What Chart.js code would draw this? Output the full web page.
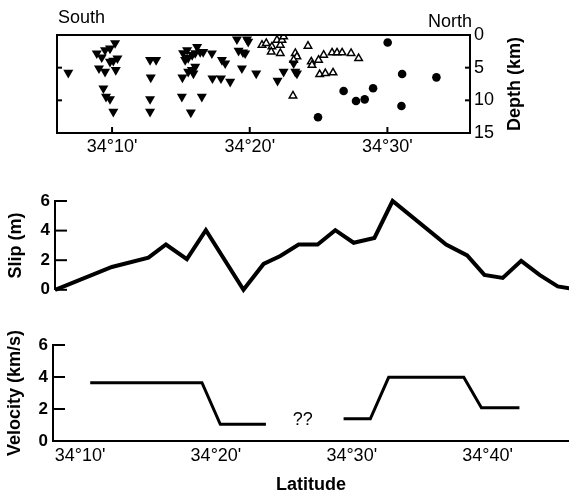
<!DOCTYPE html>
<html>
<head>
<meta charset="utf-8">
<script src="https://cdn.jsdelivr.net/npm/chart.js@4"></script>
<style>
  body { margin: 0; background: #fff; }
  canvas { position: absolute; left: 0; }
</style>
</head>
<body>
<canvas id="quakes" width="569" height="165" style="top:0px"></canvas>
<canvas id="slip" width="569" height="120" style="top:185px"></canvas>
<canvas id="velocity" width="569" height="184" style="top:310px"></canvas>
<script>
// latitude is given in minutes north of 34°
const downLat = [10.22, 8.89, 9.25, 9.49, 9.85, 9.85, 10.39, 10.09, 6.82, 9.05, 9.49, 10.27, 9.37, 9.56, 9.85, 10.09,
  12.76, 13.20, 12.81, 12.76, 12.76, 15.16, 15.45, 15.53, 15.82, 16.18, 16.40, 16.62, 16.04, 15.31, 17.25, 17.98,
  18.22, 15.80, 16.04, 15.53, 15.11, 15.91, 17.29, 17.91, 18.58, 15.07, 16.52, 15.72, 19.07, 19.80, 19.89, 19.19,
  19.51, 19.67, 19.43, 20.47, 22.46, 22.02, 23.19, 23.31, 23.43];
const downDepth = [1.23, 2.80, 3.41, 2.30, 2.04, 4.09, 3.57, 3.94, 5.77, 5.10, 5.62, 5.36, 8.16, 9.45, 9.80, 11.75,
  3.83, 3.83, 6.48, 9.80, 11.75, 2.76, 2.30, 3.52, 3.06, 1.84, 2.60, 2.60, 2.76, 3.83, 2.80, 3.83,
  4.33, 5.36, 4.85, 5.62, 6.48, 5.87, 6.63, 6.63, 7.15, 9.45, 9.45, 11.84, 0.66, 0.66, 1.03, 2.40,
  2.65, 2.80, 5.10, 5.87, 5.62, 7.00, 4.33, 5.62, 5.87];
const openLat = [20.89, 21.20, 21.61, 21.56, 21.98, 22.22, 22.34, 22.22, 22.46, 24.23, 23.31, 23.43, 23.19,
  24.47, 24.52, 25.00, 25.37, 25.98, 26.34, 26.71, 27.36, 27.91, 25.08, 25.49, 26.05, 23.14];
const openDepth = [1.53, 1.27, 1.79, 2.56, 0.77, 1.53, 0.77, 2.80, 0.26, 1.68, 2.80, 3.32, 3.83,
  4.09, 4.59, 3.83, 3.06, 2.71, 2.71, 2.71, 2.80, 3.57, 6.02, 5.87, 5.77, 9.30];
const dotLat = [30.02, 31.07, 33.56, 26.82, 28.96, 27.72, 28.35, 31.02, 24.96];
const dotDepth = [1.15, 5.97, 6.48, 8.58, 8.16, 10.11, 9.85, 10.87, 12.60];

const slipLat = [8.16, 12.34, 15.03, 16.32, 17.86, 19.26, 22.03, 23.51, 24.74, 26.09, 27.49, 28.79,
  30.14, 31.67, 33.01, 36.95, 38.50, 39.77, 41.12, 42.48, 43.83, 45.17, 46.03];
const slipVal = [0, 1.54, 2.17, 3.06, 2.07, 4.03, 0, 1.75, 2.28, 3.06, 3.06, 4.03,
  3.18, 3.50, 6.0, 3.06, 2.32, 1.01, 0.80, 1.96, 1.01, 0.23, 0.10];

// null marks the unresolved stretch ("??")
const velLat = [10.74, 18.97, 20.32, 23.68, 26.5, 29.40, 31.37, 32.72, 38.25, 39.55, 42.35];
const velVal = [3.64, 3.64, 1.04, 1.04, null, 1.39, 1.39, 3.98, 3.98, 2.08, 2.08];
const unknownNote = { lat: 26.4, val: 1.31, text: '??' };

const quakeTicks = [10, 20, 30];
const depthTicks = [0, 5, 10, 15];
const latTicks = [10, 20, 30, 40];
const rateTicks = [0, 2, 4, 6];

Chart.defaults.font.family = '"Liberation Sans", Arial, sans-serif';
Chart.defaults.color = '#000';
Chart.defaults.animation = false;
Chart.defaults.responsive = false;
Chart.defaults.devicePixelRatio = 1;
Chart.defaults.plugins.legend.display = false;
Chart.defaults.plugins.tooltip.enabled = false;

const pts = (xs, ys) => xs.map((x, i) => ({ x: x, y: ys[i] }));
const latLabel = v => '34°' + v + "'";
const fixTicks = vals => s => { s.ticks = vals.map(v => ({ value: v })); };
const noGrid = { display: false, drawTicks: false };

// frame, inward tick marks and loose text
const frame = {
  id: 'frame',
  afterDraw(chart, args, opts) {
    const ctx = chart.ctx;
    const a = chart.chartArea;
    ctx.save();
    ctx.strokeStyle = '#000';
    ctx.fillStyle = '#000';
    ctx.lineWidth = 2;
    if (opts.box) ctx.strokeRect(a.left, a.top, a.right - a.left, a.bottom - a.top);
    (opts.ticks || []).forEach(t => {
      const s = chart.scales[t.scale];
      t.values.forEach(v => {
        const p = s.getPixelForValue(v);
        ctx.beginPath();
        if (t.side === 'bottom') { ctx.moveTo(p, a.bottom); ctx.lineTo(p, a.bottom - t.len); }
        if (t.side === 'left') { ctx.moveTo(a.left, p); ctx.lineTo(a.left + t.len, p); }
        if (t.side === 'right') { ctx.moveTo(a.right, p); ctx.lineTo(a.right - t.len, p); }
        ctx.stroke();
      });
    });
    (opts.texts || []).forEach(t => {
      const x = typeof t.x === 'function' ? t.x(chart) : t.x;
      const y = typeof t.y === 'function' ? t.y(chart) : t.y;
      ctx.save();
      ctx.translate(x, y);
      if (t.rotate) ctx.rotate(t.rotate);
      ctx.font = t.font;
      ctx.textAlign = t.align || 'center';
      ctx.textBaseline = 'middle';
      ctx.fillText(t.text, 0, 0);
      ctx.restore();
    });
    ctx.restore();
  }
};

new Chart(document.getElementById('quakes'), {
  type: 'scatter',
  data: {
    datasets: [
      { data: pts(downLat, downDepth), pointStyle: 'triangle', rotation: 180, pointRadius: 5.8,
        backgroundColor: '#000', borderWidth: 0 },
      { data: pts(openLat, openDepth), pointStyle: 'triangle', pointRadius: 4.3,
        backgroundColor: '#fff', borderColor: '#000', borderWidth: 1.5 },
      { data: pts(dotLat, dotDepth), pointStyle: 'circle', pointRadius: 4.3,
        backgroundColor: '#000', borderWidth: 0 }
    ]
  },
  options: {
    layout: { padding: { left: 57, top: 35, right: 0, bottom: 0 } },
    scales: {
      x: {
        type: 'linear', min: 6, max: 36,
        grid: noGrid, border: { display: false },
        afterBuildTicks: fixTicks(quakeTicks),
        afterFit: s => { s.height = 32; },
        ticks: { font: { size: 18 }, padding: 3, callback: latLabel, maxRotation: 0 }
      },
      y: {
        type: 'linear', position: 'right', reverse: true, min: 0, max: 15,
        grid: noGrid, border: { display: false },
        afterBuildTicks: fixTicks(depthTicks),
        afterFit: s => { s.width = 99; },
        ticks: { font: { size: 18 }, padding: 4 }
      }
    },
    plugins: {
      frame: {
        box: true,
        ticks: [
          { scale: 'x', side: 'bottom', values: quakeTicks, len: 6 },
          { scale: 'y', side: 'left', values: [5, 10], len: 5 },
          { scale: 'y', side: 'right', values: [5, 10], len: 5 }
        ],
        texts: [
          { text: 'South', x: c => c.chartArea.left + 1, y: 18, font: '18px "Liberation Sans", Arial', align: 'left' },
          { text: 'North', x: c => c.chartArea.right + 2, y: 22, font: '18px "Liberation Sans", Arial', align: 'right' },
          { text: 'Depth (km)', x: c => c.chartArea.right + 45, y: c => (c.chartArea.top + c.chartArea.bottom) / 2,
            font: 'bold 18px "Liberation Sans", Arial', rotate: -Math.PI / 2 }
        ]
      }
    }
  },
  plugins: [frame]
});

new Chart(document.getElementById('slip'), {
  type: 'line',
  data: {
    datasets: [{
      data: pts(slipLat, slipVal), borderColor: '#000', borderWidth: 4,
      borderJoinStyle: 'miter', pointRadius: 0, tension: 0, clip: false
    }]
  },
  options: {
    layout: { padding: { left: 0, top: 16, right: 0, bottom: 9 } },
    scales: {
      x: { type: 'linear', min: 8.15, max: 46, display: false },
      y: {
        type: 'linear', min: 0, max: 6,
        grid: noGrid, border: { display: true, width: 2, color: '#000' },
        afterBuildTicks: fixTicks(rateTicks),
        afterFit: s => { s.width = 55; },
        ticks: { font: { size: 17, weight: 'bold' }, padding: 5 },
        title: { display: true, text: 'Slip (m)', font: { size: 18, weight: 'bold' }, padding: { top: 5, bottom: 0 } }
      }
    },
    plugins: {
      frame: { ticks: [{ scale: 'y', side: 'left', values: rateTicks, len: 12 }] }
    }
  },
  plugins: [frame]
});

new Chart(document.getElementById('velocity'), {
  type: 'line',
  data: {
    datasets: [{
      data: pts(velLat, velVal), borderColor: '#000', borderWidth: 3,
      borderJoinStyle: 'miter', pointRadius: 0, tension: 0, spanGaps: false, clip: false
    }]
  },
  options: {
    layout: { padding: { left: 0, top: 35, right: 0, bottom: 0 } },
    scales: {
      x: {
        type: 'linear', min: 8, max: 46,
        grid: noGrid, border: { display: true, width: 2, color: '#000' },
        afterBuildTicks: fixTicks(latTicks),
        afterFit: s => { s.height = 53; },
        ticks: { font: { size: 18 }, padding: 4, callback: latLabel, maxRotation: 0 },
        title: { display: true, text: 'Latitude', font: { size: 18, weight: 'bold', lineHeight: 1 }, padding: 0 }
      },
      y: {
        type: 'linear', min: 0, max: 6,
        grid: noGrid, border: { display: true, width: 2, color: '#000' },
        afterBuildTicks: fixTicks(rateTicks),
        afterFit: s => { s.width = 53; },
        ticks: { font: { size: 17, weight: 'bold' }, padding: 5 },
        title: { display: true, text: 'Velocity (km/s)', font: { size: 18, weight: 'bold' }, padding: { top: 4, bottom: 0 } }
      }
    },
    plugins: {
      frame: {
        ticks: [{ scale: 'y', side: 'left', values: [2, 4, 6], len: 12 }],
        texts: [{
          text: unknownNote.text,
          x: c => c.scales.x.getPixelForValue(unknownNote.lat),
          y: c => c.scales.y.getPixelForValue(unknownNote.val),
          font: '18px "Liberation Sans", Arial'
        }]
      }
    }
  },
  plugins: [frame]
});
</script>
</body>
</html>
